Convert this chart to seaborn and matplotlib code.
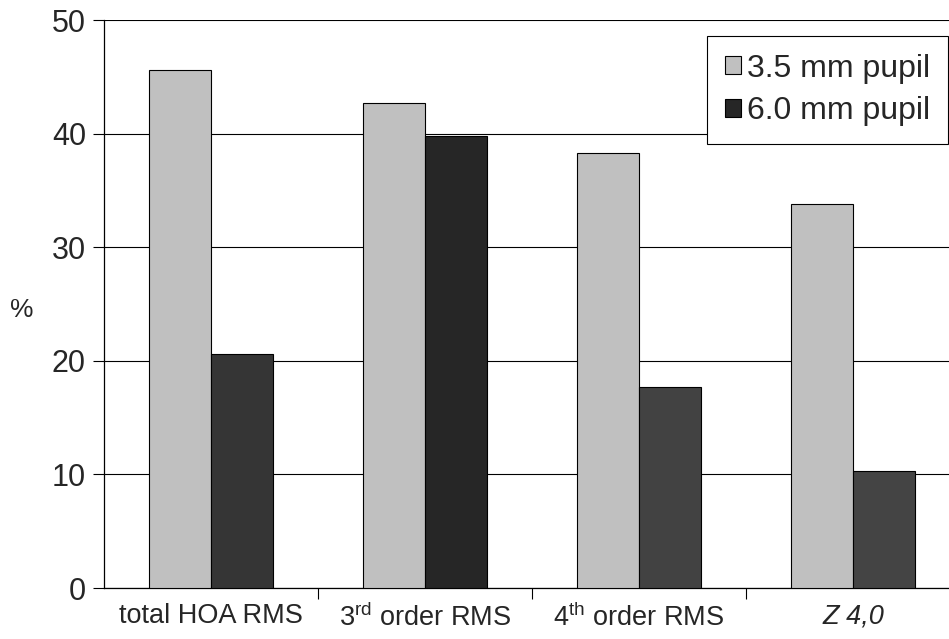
import matplotlib
matplotlib.use("Agg")
import matplotlib.pyplot as plt
import pandas as pd
import seaborn as sns

# data
categories = ["total HOA RMS", "3rd order RMS", "4th order RMS", "Z 4,0"]
tick_labels = ["total HOA RMS", r"3$^{\mathrm{rd}}$ order RMS",
               r"4$^{\mathrm{th}}$ order RMS", "Z 4,0"]
pupil_35 = [45.6, 42.7, 38.3, 33.8]
pupil_60 = [20.6, 39.8, 17.7, 10.3]
series = ["3.5 mm pupil", "6.0 mm pupil"]

df = pd.DataFrame({
    "category": categories * 2,
    "value": pupil_35 + pupil_60,
    "pupil": [series[0]] * 4 + [series[1]] * 4,
})

sns.set_theme(style="white")
plt.rcParams["font.family"] = ["Liberation Sans", "DejaVu Sans"]
plt.rcParams["mathtext.fontset"] = "custom"
plt.rcParams["mathtext.rm"] = "Liberation Sans"

fig = plt.figure(figsize=(9.49, 6.39), dpi=100)
ax = fig.add_axes([104 / 949, 51 / 639, 856 / 949, 568 / 639])

sns.barplot(data=df, x="category", y="value", hue="pupil", order=categories,
            hue_order=series, palette=["#c0c0c0", "#262626"], width=0.58,
            edgecolor="black", linewidth=0.8, saturation=1, ax=ax, zorder=3)

# the dark bars differ slightly in shade
dark_shades = ["#353535", "#262626", "#424242", "#444444"]
for patch, c in zip(ax.containers[1], dark_shades):
    patch.set_facecolor(c)

ax.set_ylim(0, 50)
ax.set_xlim(-0.5, 3.5)
ax.set_yticks(range(0, 51, 10))
ax.yaxis.grid(True, color="black", linewidth=0.8, zorder=0)
ax.set_axisbelow(True)
for s in ["top", "right"]:
    ax.spines[s].set_visible(False)
for s in ["left", "bottom"]:
    ax.spines[s].set_color("black")
    ax.spines[s].set_linewidth(0.9)

ax.tick_params(axis="y", direction="out", length=8, width=0.8, color="black",
               labelsize=22, left=True, pad=5)
ax.set_xticks(range(4))
ax.set_xticklabels(tick_labels, fontsize=19.5)
ax.get_xticklabels()[3].set_style("italic")
ax.set_xticks([0.5, 1.5, 2.5], minor=True)
ax.tick_params(axis="x", which="major", length=0, pad=11)
ax.tick_params(axis="x", which="minor", direction="out", length=8, width=0.8,
               color="black", bottom=True)

ax.set_xlabel("")
ax.set_ylabel("")
fig.text(22 / 949, 1 - 310 / 639, "%", fontsize=19, ha="center", va="center")

ax.get_legend().remove()
leg = fig.legend(*ax.get_legend_handles_labels(), loc="upper left",
                 bbox_to_anchor=(707 / 949, 1 - 36 / 639), fontsize=23,
                 frameon=True, fancybox=False, framealpha=1, edgecolor="black",
                 handlelength=0.5, handleheight=0.5, handletextpad=0.2,
                 borderpad=0.55, labelspacing=0.4, borderaxespad=0)
leg.get_frame().set_linewidth(0.8)

fig.savefig("out.png", dpi=100)
